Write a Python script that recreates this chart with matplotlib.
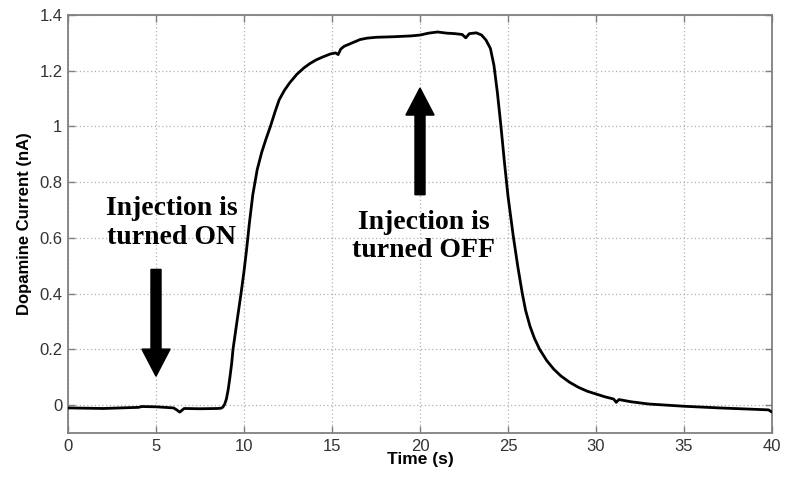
import matplotlib
matplotlib.use("Agg")
import matplotlib.pyplot as plt
from matplotlib.patches import FancyArrow

time_s = [0, 1, 2, 3, 4, 4.2, 5, 5.5, 6.0, 6.2, 6.35, 6.6, 7.5, 8.5, 8.7, 8.8, 8.9, 9.0, 9.1,
          9.2, 9.3, 9.375, 9.6, 9.83, 10.0, 10.15, 10.3, 10.5, 10.75, 11.0, 11.25, 11.5, 11.75,
          12.0, 12.3, 12.6, 13.0, 13.4, 13.75, 14.1, 14.5, 14.9, 15.2, 15.35, 15.5, 15.7, 16.0,
          16.6, 17.0, 17.5, 18.5, 19.5, 20.0, 20.5, 21.0, 21.5, 22.0, 22.4, 22.6, 22.8, 23.2,
          23.5, 23.75, 24.0, 24.2, 24.4, 24.6, 24.8, 25.0, 25.3, 25.55, 25.8, 26.0, 26.25, 26.5,
          26.8, 27.2, 27.6, 28.0, 28.5, 29.0, 29.5, 30.05, 30.5, 31.0, 31.15, 31.3, 32.0, 33.0,
          35.0, 37.0, 39.0, 39.8, 40.0]
current_nA = [-0.010, -0.011, -0.012, -0.010, -0.008, -0.005, -0.006, -0.008, -0.010, -0.018,
              -0.025, -0.012, -0.013, -0.012, -0.011, -0.007, 0.003, 0.022, 0.055,
              0.10, 0.15, 0.20, 0.30, 0.40, 0.48, 0.56, 0.65, 0.755, 0.845, 0.906, 0.955, 1.0, 1.05,
              1.096, 1.13, 1.157, 1.187, 1.21, 1.226, 1.239, 1.25, 1.26, 1.264, 1.258, 1.278, 1.288,
              1.296, 1.312, 1.317, 1.320, 1.322, 1.325, 1.328, 1.335, 1.339, 1.335, 1.333, 1.330,
              1.318, 1.333, 1.336, 1.328, 1.31, 1.28, 1.22, 1.12, 1.0, 0.87, 0.75, 0.606, 0.50,
              0.405, 0.34, 0.283, 0.24, 0.20, 0.16, 0.129, 0.105, 0.082, 0.064, 0.050, 0.039,
              0.030, 0.022, 0.010, 0.020, 0.012, 0.004, -0.004, -0.010, -0.015, -0.017, -0.025]

x_ticks = [0, 5, 10, 15, 20, 25, 30, 35, 40]
y_ticks = [0, 0.2, 0.4, 0.6, 0.8, 1.0, 1.2, 1.4]
y_tick_labels = ["0", "0.2", "0.4", "0.6", "0.8", "1", "1.2", "1.4"]

fig = plt.figure(figsize=(7.85, 4.79), dpi=100)
ax = fig.add_axes([68/785, 1-433/479, (772-68)/785, (433-15)/479])

ax.plot(time_s, current_nA, color="black", lw=2.0, zorder=3,
        solid_joinstyle="round", solid_capstyle="round")

ax.set_xlim(0, 40)
ax.set_ylim(-0.1, 1.4)
ax.set_xticks(x_ticks)
ax.set_yticks(y_ticks)
ax.set_yticklabels(y_tick_labels)
ax.grid(True, color="#b0b0b0", linestyle=(0, (1, 2)), lw=0.9)
for s in ax.spines.values():
    s.set_color("#808080")
    s.set_linewidth(1.3)
ax.tick_params(direction="in", length=5, width=1.0, color="#808080",
               top=True, right=True, labelsize=12, labelcolor="#333333", pad=4)
for lbl in ax.get_xticklabels() + ax.get_yticklabels():
    lbl.set_family("Liberation Sans")

ax.set_xlabel("Time (s)", family="Liberation Sans", fontweight="bold", fontsize=12.5, labelpad=-1)
ax.set_ylabel("Dopamine Current (nA)", family="Liberation Sans", fontweight="bold", fontsize=12, labelpad=5)

# arrows
ax.add_patch(FancyArrow(5, 0.487, 0, 0.104 - 0.487, width=0.57, head_width=1.6,
                        head_length=0.097, length_includes_head=True,
                        color="black", zorder=4))
ax.add_patch(FancyArrow(20, 0.755, 0, 1.138 - 0.755, width=0.57, head_width=1.6,
                        head_length=0.097, length_includes_head=True,
                        color="black", zorder=4))

ax.text(5.9, 0.655, "Injection is\nturned ON", family="Liberation Serif", fontweight="bold",
        fontsize=20, ha="center", va="center", linespacing=1.2, zorder=5)
ax.text(20.2, 0.605, "Injection is\nturned OFF", family="Liberation Serif", fontweight="bold",
        fontsize=20, ha="center", va="center", linespacing=1.2, zorder=5)

fig.savefig("out.png", dpi=100)
